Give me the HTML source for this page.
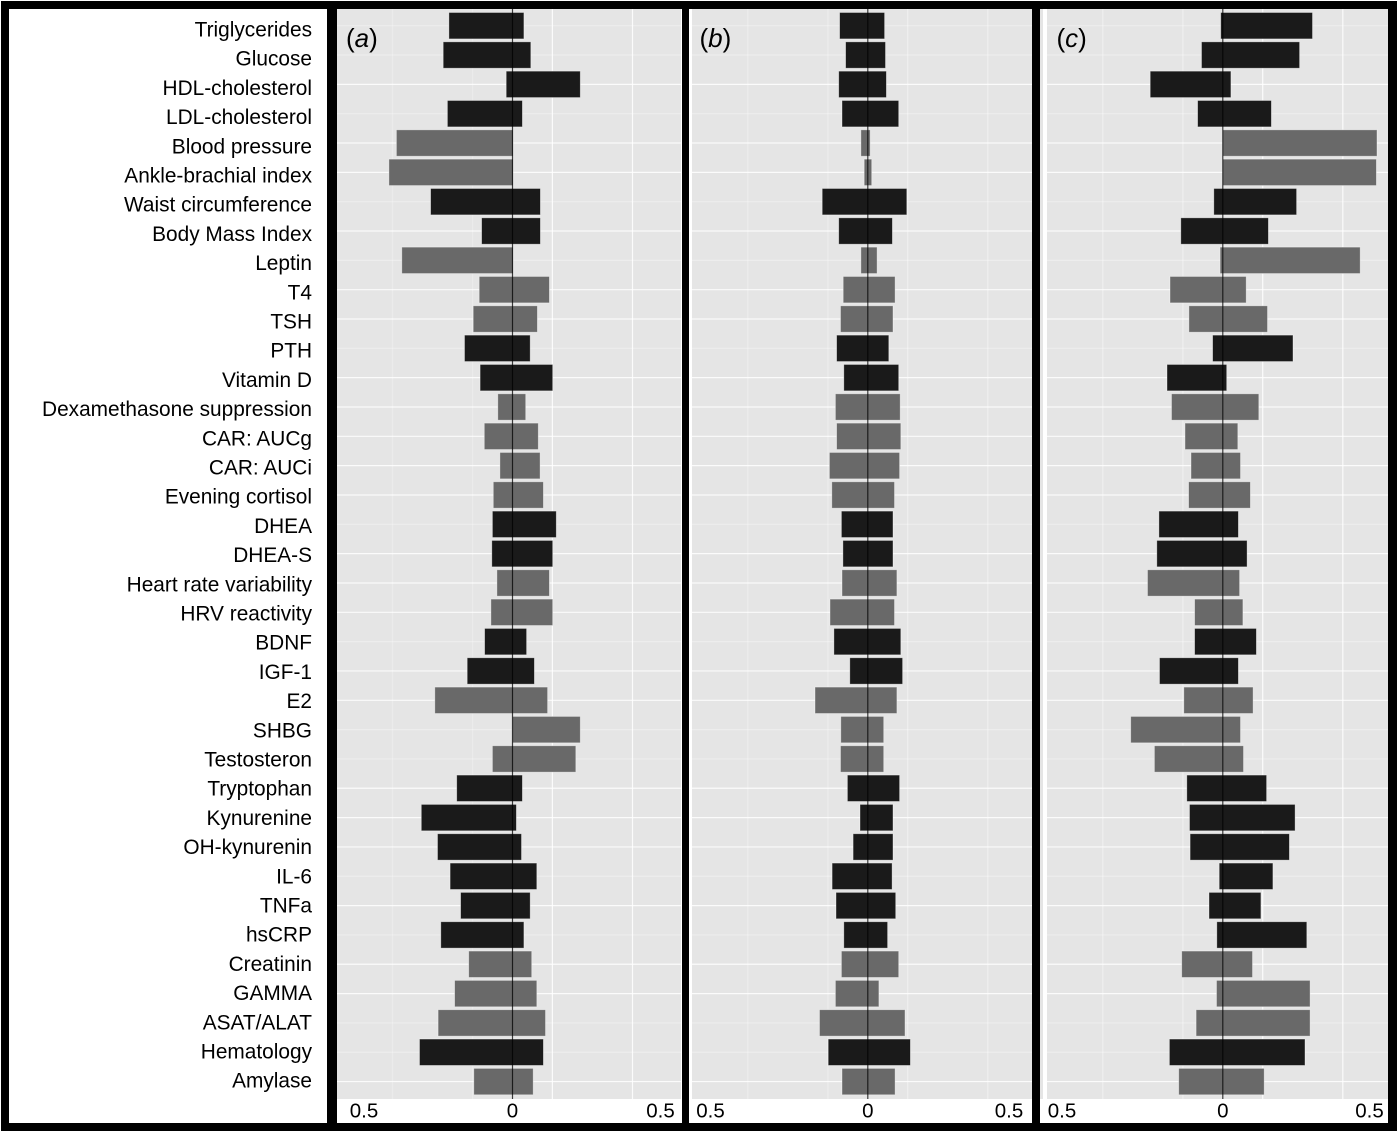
<!DOCTYPE html>
<html lang="en">
<head>
<meta charset="utf-8">
<title>Biomarker effect sizes by panel</title>
<style>
  html, body { margin: 0; padding: 0; background: #fff; }
  body { width: 1400px; height: 1133px; overflow: hidden; }
  svg { display: block; font-family: "Liberation Sans", Arial, sans-serif; }
</style>
</head>
<body>
<svg id="chart" xmlns="http://www.w3.org/2000/svg" width="1400" height="1133" viewBox="0 0 1400 1133">
  <rect x="1" y="1" width="1396" height="1130" fill="#000"/>
  <rect x="9" y="9" width="318" height="1114" fill="#fff"/>
  <g id="row-labels"></g>
  <g id="panels"></g>
</svg>
<script>
// Row categories, top to bottom
const categories = ["Triglycerides","Glucose","HDL-cholesterol","LDL-cholesterol","Blood pressure","Ankle-brachial index","Waist circumference","Body Mass Index","Leptin","T4","TSH","PTH","Vitamin D","Dexamethasone suppression","CAR: AUCg","CAR: AUCi","Evening cortisol","DHEA","DHEA-S","Heart rate variability","HRV reactivity","BDNF","IGF-1","E2","SHBG","Testosteron","Tryptophan","Kynurenine","OH-kynurenin","IL-6","TNFa","hsCRP","Creatinin","GAMMA","ASAT/ALAT","Hematology","Amylase"];

// 1 = dark bar group, 0 = grey bar group
const darkGroup = [1,1,1,1,0,0,1,1,0,0,0,1,1,0,0,0,0,1,1,0,0,1,1,0,0,0,1,1,1,1,1,1,0,0,0,1,0];

// Panel (a) interval ends
const lowA = [-.212,-.231,-.021,-.217,-.387,-.412,-.273,-.103,-.369,-.111,-.131,-.160,-.108,-.049,-.094,-.042,-.064,-.067,-.069,-.052,-.072,-.093,-.151,-.259,0,-.067,-.186,-.304,-.250,-.208,-.173,-.239,-.146,-.193,-.248,-.310,-.129];
const highA = [.038,.061,.226,.033,.002,.002,.093,.093,.002,.123,.083,.059,.134,.044,.086,.092,.103,.146,.134,.123,.134,.047,.073,.117,.226,.211,.033,.013,.030,.081,.059,.038,.064,.081,.110,.103,.069];

// Panel (b) interval ends
const lowB = [-.094,-.074,-.097,-.086,-.023,-.012,-.152,-.097,-.023,-.082,-.091,-.104,-.080,-.108,-.104,-.128,-.120,-.088,-.083,-.086,-.126,-.113,-.060,-.176,-.090,-.091,-.068,-.026,-.049,-.119,-.106,-.080,-.088,-.108,-.161,-.132,-.086];
const highB = [.056,.059,.062,.103,.008,.013,.130,.082,.031,.091,.084,.070,.103,.108,.110,.106,.089,.084,.084,.097,.089,.110,.116,.097,.053,.053,.106,.084,.084,.081,.093,.066,.103,.037,.124,.142,.091];

// Panel (c) interval ends
const lowC = [-.007,-.071,-.242,-.084,0,0,-.030,-.140,-.009,-.176,-.113,-.034,-.186,-.171,-.126,-.106,-.114,-.213,-.220,-.251,-.094,-.094,-.211,-.130,-.307,-.228,-.120,-.111,-.109,-.012,-.046,-.020,-.137,-.021,-.089,-.178,-.147];
const highC = [.299,.256,.027,.162,.514,.512,.246,.152,.458,.078,.149,.234,.013,.120,.050,.059,.092,.052,.081,.056,.067,.112,.052,.101,.059,.069,.146,.241,.222,.167,.127,.280,.099,.291,.291,.274,.138];

// Gridline positions on the value axis
const gridValues = [-.4,-.133,.133,.4];

// Axis tick text
const tickLabels = ["0.5","0","0.5"];

const panelLetters = ["a","b","c"];
const panelLows = [lowA, lowB, lowC];
const panelHighs = [highA, highB, highC];

const NS = "http://www.w3.org/2000/svg";
const plotTop = 9, plotBottom = 1099, frameBottom = 1123;
const pxPerUnit = 300, rowStep = 29.33, firstRowY = 25.7, barHeight = 26.4;
const labelStep = 29.2, firstLabelY = 36.5, labelRight = 312;
const darkFill = "#1a1a1a", greyFill = "#696969";
const faintRows = new Set([0,1,3,6,8,11,17,21,24,25,29,31,34,35]);

// Layout of each panel frame (not data)
const layouts = [
  { whiteX: 337, whiteEnd: 682, plotX: 337, plotEnd: 681, zero: 512.5, tickLeft: 364, tickRight: 660.5, tagX: 346, gridLeft: .25, gridRight: .85 },
  { whiteX: 689, whiteEnd: 1032, plotX: 692, plotEnd: 1032, zero: 867.8, tickLeft: 710.5, tickRight: 1009, tagX: 699.5, gridLeft: .3, gridRight: .4 },
  { whiteX: 1040, whiteEnd: 1388, plotX: 1047, plotEnd: 1388, zero: 1222.8, tickLeft: 1062, tickRight: 1369.5, tagX: 1056.5, gridLeft: .4, gridRight: .85 }
];

function el(tag, attrs, parent) {
  const node = document.createElementNS(NS, tag);
  for (const key in attrs) node.setAttribute(key, attrs[key]);
  parent.appendChild(node);
  return node;
}
function rowY(i) { return firstRowY + i * rowStep; }
function labelY(i) { return firstLabelY + i * labelStep; }
function xScale(layout, v) { return layout.zero + v * pxPerUnit; }

const labelGroup = document.getElementById("row-labels");
categories.forEach(function (name, i) {
  const t = el("text", { x: labelRight, y: labelY(i), "text-anchor": "end", "font-size": "20.85", fill: "#000" }, labelGroup);
  
  
  t.textContent = name;
});

const panelsGroup = document.getElementById("panels");
layouts.forEach(function (layout, p) {
  const letter = panelLetters[p];
  const lows = panelLows[p];
  const highs = panelHighs[p];

  const g = el("g", {}, panelsGroup);
  
  

  const white = el("rect", { x: layout.whiteX, y: plotTop, width: layout.whiteEnd - layout.whiteX, height: frameBottom - plotTop, fill: "#fff" }, g);
  
  

  if (p === 2) {
    const strip = el("rect", { x: 1040, y: plotTop, width: 3, height: plotBottom - plotTop, fill: "#e5e5e5" }, g);
    
    
  }

  const plot = el("rect", { x: layout.plotX, y: plotTop, width: layout.plotEnd - layout.plotX, height: plotBottom - plotTop, fill: "#e5e5e5" }, g);
  
  

  categories.forEach(function (name, i) {
    const y = rowY(i);
    const line = el("line", { x1: layout.plotX, x2: layout.plotEnd, y1: y, y2: y, stroke: "#fff", "stroke-width": 1.2, "stroke-opacity": faintRows.has(i) ? .3 : .85 }, g);
    
    
  });

  gridValues.forEach(function (v) {
    const x = xScale(layout, v);
    const line = el("line", { x1: x, x2: x, y1: plotTop, y2: plotBottom, stroke: "#fff", "stroke-width": 1.2, "stroke-opacity": v < 0 ? layout.gridLeft : layout.gridRight }, g);
    
    
  });

  categories.forEach(function (name, i) {
    const x0 = xScale(layout, lows[i]);
    const x1 = xScale(layout, highs[i]);
    const bar = el("rect", { x: x0, y: rowY(i) - barHeight / 2, width: x1 - x0, height: barHeight, fill: darkGroup[i] ? darkFill : greyFill, stroke: "#fff", "stroke-opacity": .45, "stroke-width": .8 }, g);
    
    
  });

  const zero = el("line", { x1: layout.zero, x2: layout.zero, y1: plotTop, y2: plotBottom, stroke: "#000", "stroke-opacity": .75, "stroke-width": 1.2 }, g);
  
  

  [layout.tickLeft, layout.zero, layout.tickRight].forEach(function (x, k) {
    const t = el("text", { x: x, y: 1117.5, "text-anchor": "middle", "font-size": "20.5", fill: "#000" }, g);
    
    
    t.textContent = tickLabels[k];
  });

  const tag = el("text", { x: layout.tagX, y: 47, "font-size": "26", fill: "#000" }, g);
  
  
  tag.appendChild(document.createTextNode("("));
  const it = el("tspan", { "font-style": "italic" }, tag);
  it.textContent = letter;
  tag.appendChild(document.createTextNode(")"));
});
</script>
</body>
</html>
